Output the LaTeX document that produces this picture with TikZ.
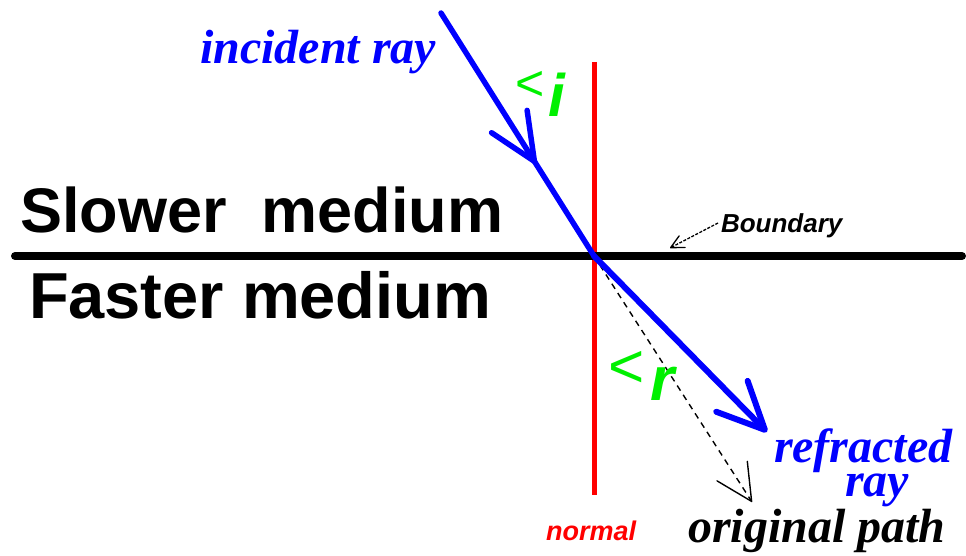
\documentclass[tikz,border=0pt]{standalone}
\usepackage{fontspec}
\setmainfont{Liberation Serif}
\setsansfont{Liberation Sans}
\usetikzlibrary{arrows.meta}
\usetikzlibrary{decorations.markings}
\usetikzlibrary{positioning}
\definecolor{raybl}{RGB}{0,0,255}
\definecolor{normred}{RGB}{255,0,0}
\definecolor{anggreen}{RGB}{0,240,0}
\newcommand{\fsz}[1]{\fontsize{#1}{#1}\selectfont}
\tikzset{
ray/.style = {draw=raybl, line width=#1, line cap=round},
ray/.default = 5.5pt,
txt/.style = {inner sep=0pt, outer sep=0pt, anchor=base west},
bigbarb/.style = {-{Straight Barb[length=47pt, width=44pt, round]}},
thinbarb/.style = {-{Straight Barb[length=#1, width=#1, round]}},
thinbarb/.default = 36pt
}

\begin{document}
\begin{tikzpicture}[x=1pt,y=-1pt]
        \useasboundingbox (0,0) rectangle (966,556);
        % points of the rays
        \coordinate (src) at (441,13);
        \coordinate (O) at (594,256);
        \coordinate (refr) at (767,432);
        \coordinate (orig) at (752,502);
        \coordinate (bl) at (15,256);
        \coordinate (br) at (962,256);
        \coordinate (ntop) at (594,62);
        \coordinate (nbot) at (594,495);
        \coordinate (bp) at (718,223);
        \coordinate (bq) at (670,248);
        % normal and boundary
        \draw[normred, line width=5pt] (ntop) -- (nbot);
        \draw[line width=8pt, line cap=round] (bl) -- (br);
        % original path
        \draw[line width=1.4pt, dash pattern=on 6pt off 5pt, thinbarb] (O) -- (orig);
        % rays
        \draw[ray, postaction={decorate, decoration={markings,
              mark=at position 0.62 with {\arrow[line width=5.5pt]{Straight Barb[length=47pt, width=42pt, round]}}}}]
              (src) -- (O);
        \draw[ray=6pt, bigbarb] (O) -- (refr);
        % labels
        \node[txt, raybl, font=\fsz{48}\bfseries\itshape] (inc) at (200,64) {incident ray};
        \node[txt, font=\fsz{63}\sffamily\bfseries] (slow) at (20,233) {Slower\ \ medium};
        \node[txt, font=\fsz{65}\sffamily\bfseries] (fast) at (29,318) {Faster medium};
        \node[txt, font=\fsz{26}\sffamily\bfseries\itshape] (bnd) at (721,233) {Boundary};
        \node[txt, raybl, font=\fsz{48}\bfseries\itshape, text depth=2pt] (refr1) at (774,462) {refracted};
        \node[txt, raybl, font=\fsz{48}\bfseries\itshape, anchor=base, text height=24pt] (refr2) at (877,496) {ray};
        \node[txt, normred, font=\fsz{27}\sffamily\bfseries\itshape] (norm) at (546,540) {normal};
        \node[txt, font=\fsz{48}\bfseries\itshape] (origtxt) at (688,542) {original path};
        % angles
        \node[txt, anggreen, font=\fsz{50}\sffamily] (lti) at (515,101) {<};
        \node[txt, anggreen, font=\fsz{60}\sffamily\bfseries\itshape] (angi) at (548,117) {i};
        \node[txt, anggreen, font=\fsz{62}\sffamily] (ltr) at (608,387) {<};
        \node[txt, anggreen, font=\fsz{62}\sffamily\bfseries\itshape] (angr) at (650,400) {r};
        % pointer to the boundary
        \draw[line width=1.3pt, dash pattern=on 3pt off 1.5pt, thinbarb=13pt] (bp) -- (bq);
\end{tikzpicture}
\end{document}
